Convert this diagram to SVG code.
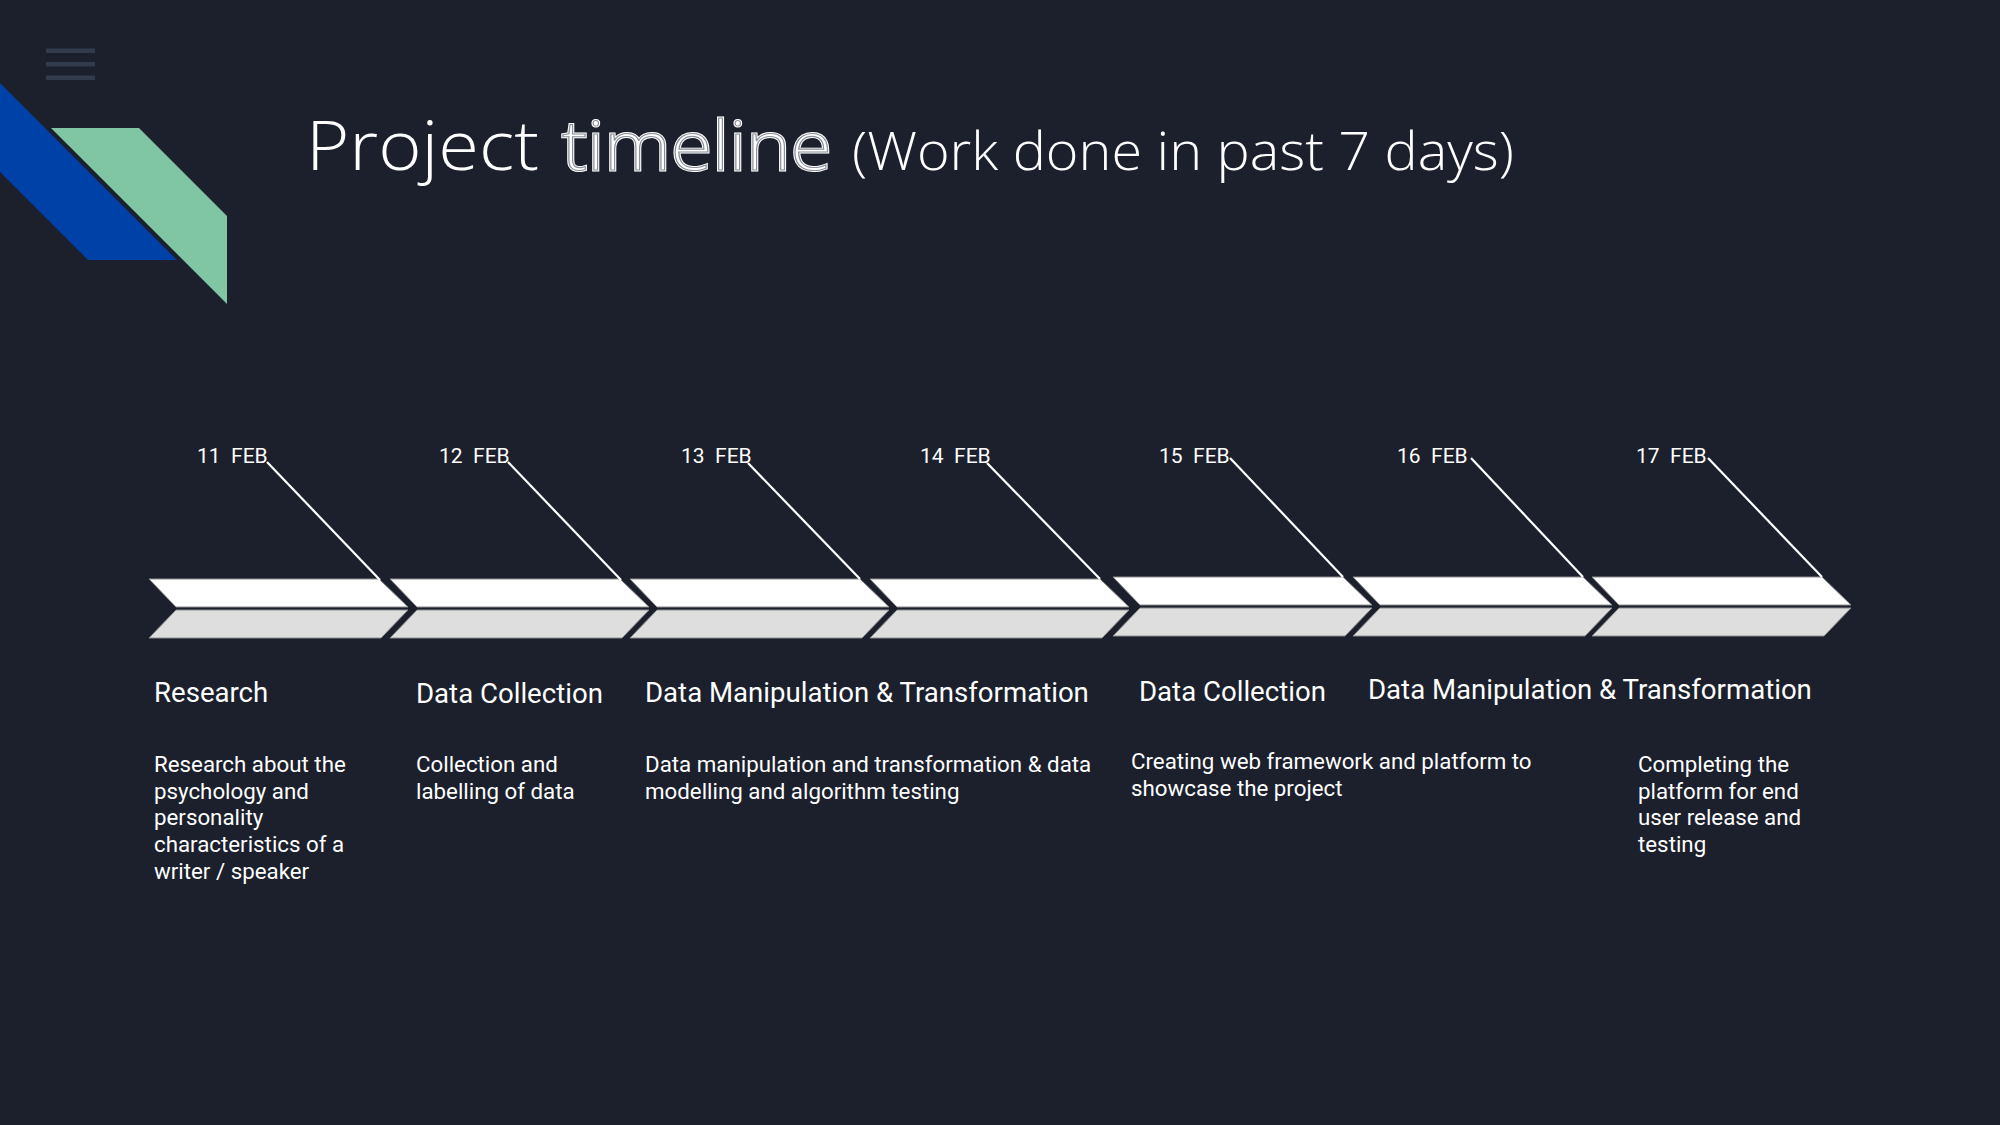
<svg xmlns="http://www.w3.org/2000/svg" width="2000" height="1125" viewBox="0 0 2000 1125">
<style>
.bg{fill:#1b202c}
.ham{fill:#323b4c}
.top{fill:#ffffff;stroke:#8c8c8c;stroke-width:1}
.bot{fill:#dedede;stroke:#8c8c8c;stroke-width:1}
.lead{stroke:#ffffff;stroke-width:2.2;fill:none}
.date{font-family:Roboto,"Liberation Sans",sans-serif;font-size:21px;fill:#ffffff;white-space:pre}
.head{font-family:Roboto,"Liberation Sans",sans-serif;font-size:27.6px;fill:#ffffff}
.body{font-family:Roboto,"Liberation Sans",sans-serif;font-size:22.3px;fill:#ffffff}
.title{font-family:"Open Sans","DejaVu Sans",sans-serif;font-weight:300;fill:#ffffff}
</style>
<defs>
<g id="chev">
<polygon class="top" points="0,0 230,0 259,28 27,28"/>
<polygon class="bot" points="27,31 259,31 232,59 0,59"/>
</g>
</defs>
<rect class="bg" x="0" y="0" width="2000" height="1125"/>
<g id="menu">
<rect class="ham" x="46" y="48.5" width="49" height="4.5"/>
<rect class="ham" x="46" y="62" width="49" height="4.5"/>
<rect class="ham" x="46" y="75.5" width="49" height="4.5"/>
</g>
<g id="decor">
<polygon points="0,83 177,260 88,260 0,172" fill="#0041a8"/>
<polygon points="50,128 139,128 227,216 227,305" fill="#80c6a5"/>
<line x1="50" y1="128" x2="227" y2="305" stroke="#1b202c" stroke-width="1.5"/>
</g>
<g id="title">
<text class="title" x="306" y="170" font-size="68" textLength="233" lengthAdjust="spacingAndGlyphs">Project</text>
<text class="title" x="562" y="170" font-size="68" textLength="270" lengthAdjust="spacingAndGlyphs" stroke="#ffffff" stroke-width="3">timeline</text>
<text class="title" x="562" y="170" font-size="68" textLength="270" lengthAdjust="spacingAndGlyphs" fill="none" stroke="#8a8f99" stroke-width="1.1">timeline</text>
<text class="title" x="852" y="170" font-size="54" textLength="662" lengthAdjust="spacingAndGlyphs">(Work done in past 7 days)</text>
</g>
<g id="chevrons">
<g id="step1"><use href="#chev" x="149" y="579"/></g>
<g id="step2"><use href="#chev" x="390" y="579"/></g>
<g id="step3"><use href="#chev" x="630" y="579"/></g>
<g id="step4"><use href="#chev" x="870" y="579"/></g>
<g id="step5"><use href="#chev" x="1113" y="577"/></g>
<g id="step6"><use href="#chev" x="1353" y="577"/></g>
<g id="step7"><use href="#chev" x="1592" y="577"/></g>
</g>
<g id="connectors">
<line class="lead" x1="267" y1="462" x2="380" y2="580"/>
<line class="lead" x1="508" y1="462" x2="621" y2="580"/>
<line class="lead" x1="748" y1="463" x2="860" y2="579"/>
<line class="lead" x1="987" y1="463" x2="1100" y2="579"/>
<line class="lead" x1="1230" y1="458" x2="1343" y2="577"/>
<line class="lead" x1="1471" y1="458" x2="1583" y2="577"/>
<line class="lead" x1="1708" y1="458" x2="1822" y2="577"/>
</g>
<g id="dates">
<text class="date" x="197" y="463">11  FEB</text>
<text class="date" x="439" y="463">12  FEB</text>
<text class="date" x="681" y="463">13  FEB</text>
<text class="date" x="920" y="463">14  FEB</text>
<text class="date" x="1159" y="463">15  FEB</text>
<text class="date" x="1397" y="463">16  FEB</text>
<text class="date" x="1636" y="463">17  FEB</text>
</g>
<g id="headings">
<text class="head" x="154" y="702">Research</text>
<text class="head" x="416" y="703">Data Collection</text>
<text class="head" x="645" y="702">Data Manipulation &amp; Transformation</text>
<text class="head" x="1139" y="701">Data Collection</text>
<text class="head" x="1368" y="699">Data Manipulation &amp; Transformation</text>
</g>
<g id="descriptions">
<text class="body" x="154" y="772">Research about the<tspan x="154" y="798.7">psychology and</tspan><tspan x="154" y="825.4">personality</tspan><tspan x="154" y="852.1">characteristics of a</tspan><tspan x="154" y="878.8">writer / speaker</tspan></text>
<text class="body" x="416" y="772">Collection and<tspan x="416" y="798.7">labelling of data</tspan></text>
<text class="body" x="645" y="772">Data manipulation and transformation &amp; data<tspan x="645" y="798.7">modelling and algorithm testing</tspan></text>
<text class="body" x="1131" y="769">Creating web framework and platform to<tspan x="1131" y="795.7">showcase the project</tspan></text>
<text class="body" x="1638" y="772">Completing the<tspan x="1638" y="798.7">platform for end</tspan><tspan x="1638" y="825.4">user release and</tspan><tspan x="1638" y="852.1">testing</tspan></text>
</g>
</svg>
